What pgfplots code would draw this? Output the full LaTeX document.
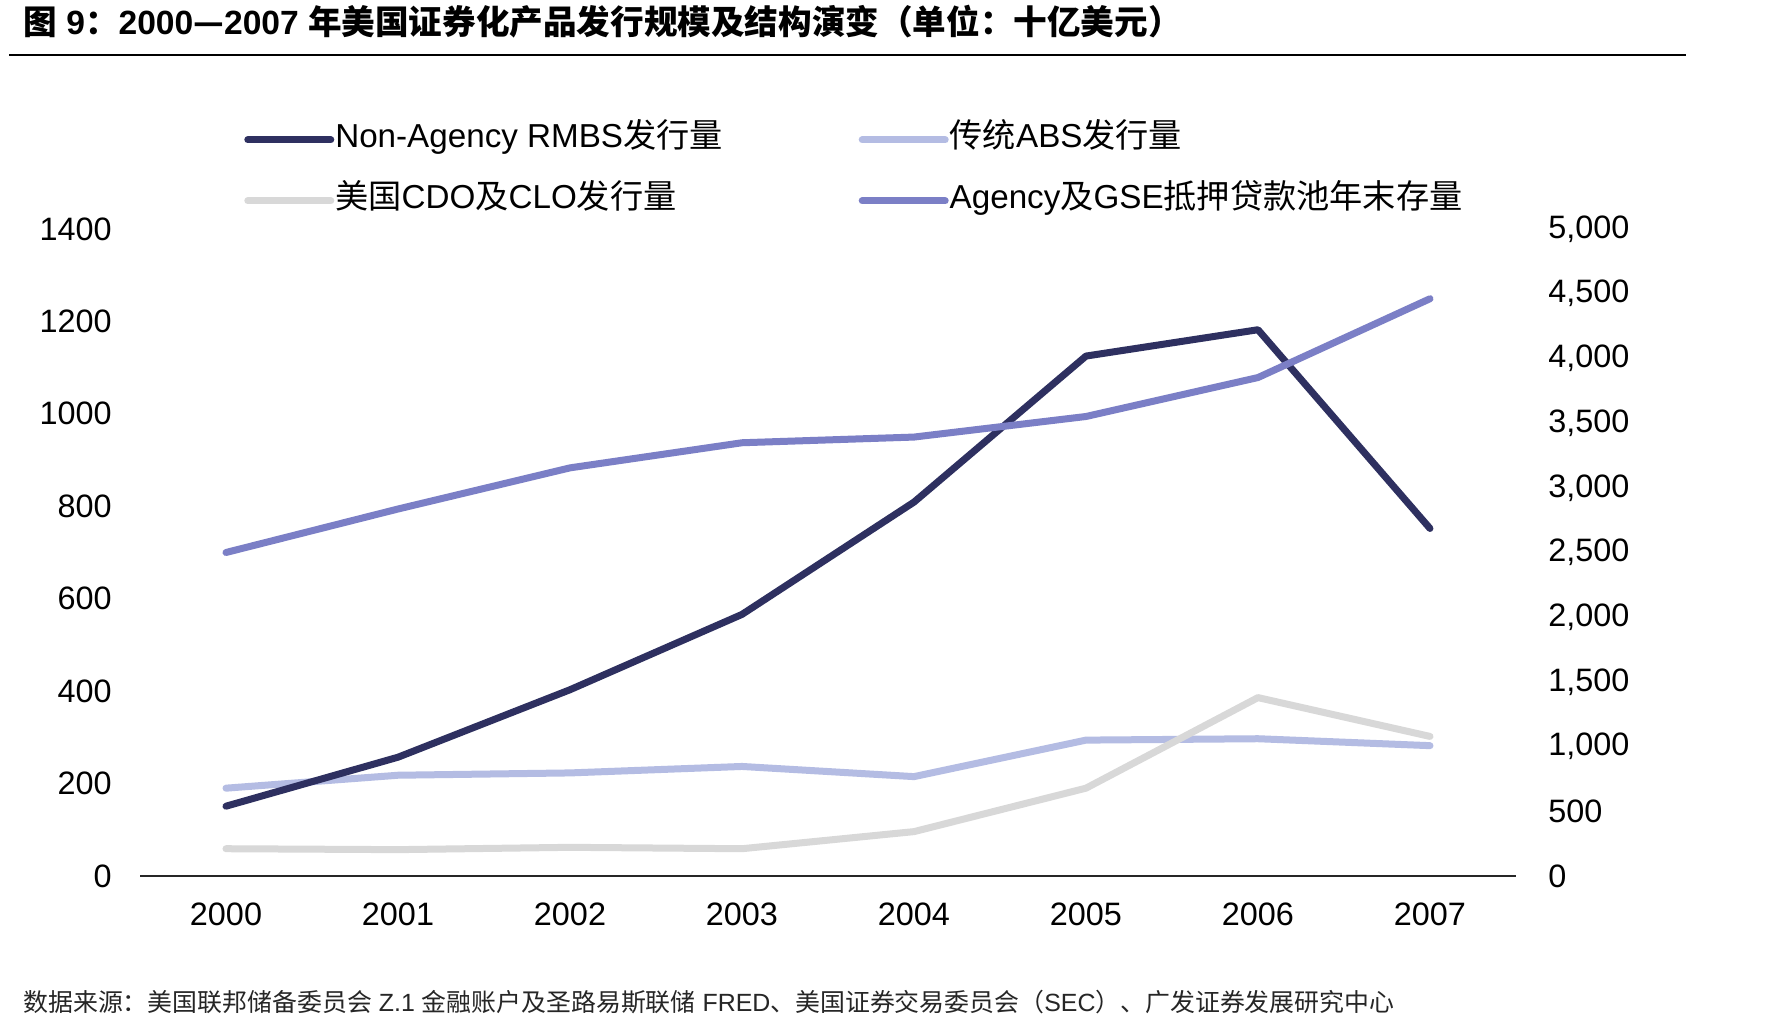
\documentclass[border=0pt]{standalone}
\usepackage{fontspec}
\setmainfont{Liberation Sans}
\newfontfamily\cjk{Noto Sans CJK SC}
\usepackage{pgfplots}
\pgfplotsset{compat=1.18}

\definecolor{navy}{HTML}{2E3060}
\definecolor{absblue}{HTML}{B4BCE3}
\definecolor{cdogray}{HTML}{D8D8D8}
\definecolor{agency}{HTML}{7B7FC6}

\begin{document}
\begin{tikzpicture}
\useasboundingbox (0,0) rectangle (895pt,515.5pt);
\fill[white] (0,0) rectangle (895pt,515.5pt);

% title and rule
\node[anchor=west, inner sep=0pt, font=\fontsize{16.8pt}{18pt}\selectfont\bfseries]
  at (11.5pt,504.5pt) {{\cjk 图} 9{\cjk ：}2000{\cjk —}2007 {\cjk 年美国证券化产品发行规模及结构演变（单位：十亿美元）}};
\draw[line width=1pt, black] (4.5pt,488pt) -- (843pt,488pt);

% source line
\node[anchor=west, inner sep=0pt, font=\fontsize{12.45pt}{14pt}\selectfont, text=black!85]
  at (11.5pt,14.5pt) {{\cjk 数据来源：美国联邦储备委员会} Z.1 {\cjk 金融账户及圣路易斯联储} FRED{\cjk 、美国证券交易委员会（}SEC{\cjk ）、广发证券发展研究中心}};

\pgfplotsset{
  base/.style={
    scale only axis, width=688pt, height=323.5pt,
    at={(70pt,77.5pt)}, anchor=south west,
    xmin=-0.5, xmax=7.5, ymin=0,
    tick style={draw=none},
    /pgf/number format/assume math mode=true,
    ticklabel style={font=\fontsize{16.2pt}{18pt}\selectfont, inner sep=0pt},
  },
}

% left axis: issuance
\begin{axis}[base,
  ymax=1400, ytick={0,200,...,1400},
  axis x line*=bottom, axis y line*=left,
  x axis line style={line width=0.9pt, black!85, -},
  y axis line style={draw=none},
  xtick={0,...,7}, xticklabels={2000,2001,2002,2003,2004,2005,2006,2007},
  xticklabel style={anchor=center, yshift=-19pt},
  yticklabel style={anchor=east, xshift=-14pt},
  y tick label style={/pgf/number format/1000 sep={}},
  legend columns=2,
  legend cell align=left,
  legend style={draw=none, fill=none, inner sep=0pt,
    at={(axis description cs:0.0755,1.163)}, anchor=north west,
    font=\fontsize{16.6pt}{18pt}\selectfont,
    nodes={inner sep=0pt, text height=12pt, text depth=4pt},
    row sep=14.5pt,
    /tikz/every odd column/.append style={column sep=0.5pt},
    /tikz/every even column/.append style={column sep=68pt},
  },
  legend image code/.code={\draw[#1, line width=3.5pt, line cap=round] (0pt,0pt) -- (41.5pt,0pt);},
]
\addlegendimage{navy}
\addlegendentry{Non-Agency RMBS{\cjk 发行量}}
\addlegendimage{absblue}
\addlegendentry{{\cjk 传统}ABS{\cjk 发行量}}
\addlegendimage{cdogray}
\addlegendentry{{\cjk 美国}CDO{\cjk 及}CLO{\cjk 发行量}}
\addlegendimage{agency}
\addlegendentry{Agency{\cjk 及}GSE{\cjk 抵押贷款池年末存量}}

% traditional ABS issuance
\addplot[absblue, line width=3.5pt, line cap=round, line join=round, forget plot]
  coordinates {(0,190) (1,218) (2,223) (3,237) (4,215) (5,294) (6,297) (7,282)};
% US CDO and CLO issuance
\addplot[cdogray, line width=3.5pt, line cap=round, line join=round, forget plot]
  coordinates {(0,59) (1,57) (2,62) (3,59) (4,96) (5,190) (6,386) (7,302)};
% non-agency RMBS issuance
\addplot[navy, line width=3.5pt, line cap=round, line join=round, forget plot]
  coordinates {(0,151) (1,257) (2,403) (3,566) (4,809) (5,1125) (6,1182) (7,752)};
\end{axis}

% right axis: agency and GSE pool outstanding at year end
\begin{axis}[base,
  ymax=5000, ytick={0,500,...,5000},
  axis x line=none, axis y line*=right,
  y axis line style={draw=none},
  xtick=\empty,
  yticklabel style={anchor=west, xshift=16pt},
  y tick label style={/pgf/number format/1000 sep={,}},
]
\addplot[agency, line width=3.5pt, line cap=round, line join=round]
  coordinates {(0,2500) (1,2836) (2,3154) (3,3348) (4,3392) (5,3551) (6,3852) (7,4461)};
\end{axis}
\end{tikzpicture}
\end{document}
